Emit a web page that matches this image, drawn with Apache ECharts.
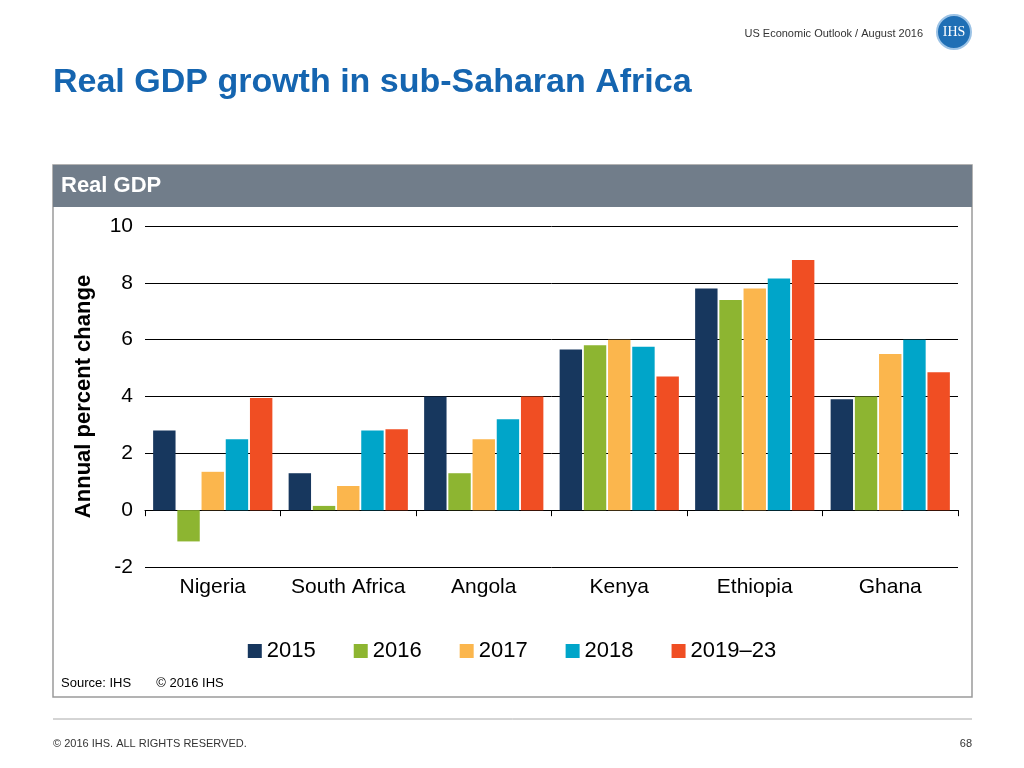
<!DOCTYPE html>
<html><head><meta charset="utf-8">
<script src="https://cdn.jsdelivr.net/npm/echarts@6/dist/echarts.min.js"></script>
<style>html,body{margin:0;padding:0;background:#fff}#c{width:1024px;height:768px}</style>
</head><body><div id="c"></div>
<script>
const categories=['Nigeria','South Africa','Angola','Kenya','Ethiopia','Ghana'];
const seriesNames=['2015','2016','2017','2018','2019–23'];
const v2015=[2.8,1.3,4.0,5.65,7.8,3.9];
const v2016=[-1.1,0.15,1.3,5.8,7.4,4.0];
const v2017=[1.35,0.85,2.5,6.0,7.8,5.5];
const v2018=[2.5,2.8,3.2,5.75,8.15,6.0];
const v2019=[3.95,2.85,4.0,4.7,8.8,4.85];
const colors=['#17375e','#8db531','#fbb64d','#00a5c9','#f04e23'];
const data=[v2015,v2016,v2017,v2018,v2019];
const F='Liberation Sans, Arial, sans-serif';
const chart=echarts.init(document.getElementById('c'));
chart.setOption({
  animation:false,
  textStyle:{fontFamily:F},
  graphic:[
    {type:'text',x:923,y:28,style:{text:'US Economic Outlook / August 2016',fontSize:11,fill:'#333',fontFamily:F,align:'right'}},
    {type:'circle',shape:{cx:954,cy:32,r:17},style:{fill:'#1f6fb5',stroke:'#9cc3e6',lineWidth:2}},
    {type:'text',x:954,y:32,style:{text:'IHS',fontSize:14,fill:'#fff',fontFamily:'Liberation Serif, serif',align:'center',verticalAlign:'middle'}},
    {type:'text',x:53,y:66,style:{text:'Real GDP growth in sub-Saharan Africa',fontSize:34,fontWeight:'bold',fill:'#1565b0',fontFamily:F}},
    {type:'rect',shape:{x:53,y:165,width:919,height:532},style:{fill:'none',stroke:'#9a9a9a',lineWidth:1.5}},
    {type:'rect',shape:{x:53,y:165,width:919,height:42},style:{fill:'#717d8a'}},
    {type:'text',x:61,y:175,style:{text:'Real GDP',fontSize:22,fontWeight:'bold',fill:'#fff',fontFamily:F}},
    {type:'text',x:61,y:677,style:{text:'Source: IHS       © 2016 IHS',fontSize:13,fill:'#000',fontFamily:F}},
    {type:'line',shape:{x1:53,y1:719,x2:972,y2:719},style:{stroke:'#aaa',lineWidth:1}},
    {type:'text',x:53,y:738,style:{text:'© 2016 IHS. ALL RIGHTS RESERVED.',fontSize:11,fill:'#333',fontFamily:F}},
    {type:'text',x:972,y:738,style:{text:'68',fontSize:11,fill:'#333',fontFamily:F,align:'right'}}
  ],
  legend:{top:635,left:'center',itemWidth:14,itemHeight:14,itemGap:38,icon:'rect',textStyle:{fontSize:22,color:'#000',fontFamily:F},data:seriesNames},
  grid:{left:145,right:66,top:226,bottom:201,containLabel:false},
  xAxis:{type:'category',data:categories,axisTick:{show:true,length:6,lineStyle:{color:'#000'}},axisLine:{onZero:true,lineStyle:{color:'#000'}},
    axisLabel:{fontSize:21,color:'#000',margin:10,interval:0}},
  yAxis:{type:'value',min:-2,max:10,interval:2,name:'Annual percent change',nameLocation:'middle',nameGap:50,
    nameTextStyle:{fontSize:22,fontWeight:'bold',color:'#000'},
    axisLabel:{fontSize:21,color:'#000',margin:12},axisLine:{show:false},axisTick:{show:false},
    splitLine:{lineStyle:{color:'#000',width:1}}},
  series:data.map((d,i)=>({name:seriesNames[i],type:'bar',data:d,barGap:'8%',barCategoryGap:'12%',itemStyle:{color:colors[i]}}))
});
</script></body></html>
